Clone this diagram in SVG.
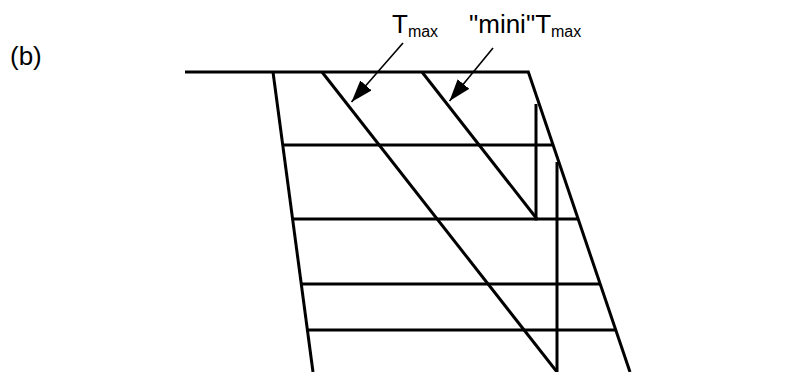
<svg xmlns="http://www.w3.org/2000/svg" width="793" height="372" viewBox="0 0 793 372">
<style>
.ln{stroke:#000;stroke-width:3;fill:none;stroke-linecap:butt}
.ar{stroke:#000;stroke-width:1.6;fill:none}
.t{font-family:"Liberation Sans",Arial,sans-serif;fill:#000}
</style>
<defs>
<marker id="ah" markerUnits="userSpaceOnUse" markerWidth="24" markerHeight="16" refX="22" refY="7.5" orient="auto">
<path d="M0,0 L22,7.5 L0,15 Z" fill="#000"/>
</marker>
</defs>
<rect width="793" height="372" fill="#fff"/>
<text class="t" x="10" y="65" font-size="26">(b)</text>
<g id="frame">
<line class="ln" x1="185" y1="72" x2="529" y2="72"/>
<line class="ln" x1="273" y1="72" x2="313" y2="372"/>
<line class="ln" x1="528" y1="71" x2="630" y2="372"/>
</g>
<g id="horizontals">
<line class="ln" x1="282.5" y1="145" x2="553" y2="145"/>
<line class="ln" x1="292.5" y1="219" x2="578" y2="219"/>
<line class="ln" x1="301.5" y1="284" x2="600" y2="284"/>
<line class="ln" x1="307.5" y1="330" x2="616" y2="330"/>
</g>
<g id="diagonals">
<line class="ln" x1="322" y1="72" x2="557" y2="372"/>
<line class="ln" x1="422" y1="72" x2="537" y2="219"/>
<line class="ln" x1="536" y1="104" x2="536" y2="220.5"/>
<line class="ln" x1="557" y1="162" x2="557" y2="372"/>
</g>
<g id="label-tmax">
<text class="t" x="392" y="33" font-size="26">T<tspan font-size="16" dy="4">max</tspan></text>
</g>
<g id="label-mini">
<text class="t" x="469" y="33" font-size="26">"mini"T<tspan font-size="16" dy="4">max</tspan></text>
</g>
<g id="connectors">
<line class="ar" x1="403" y1="43" x2="351.5" y2="102" marker-end="url(#ah)"/>
<line class="ar" x1="493" y1="48" x2="449.5" y2="101" marker-end="url(#ah)"/>
</g>
</svg>
